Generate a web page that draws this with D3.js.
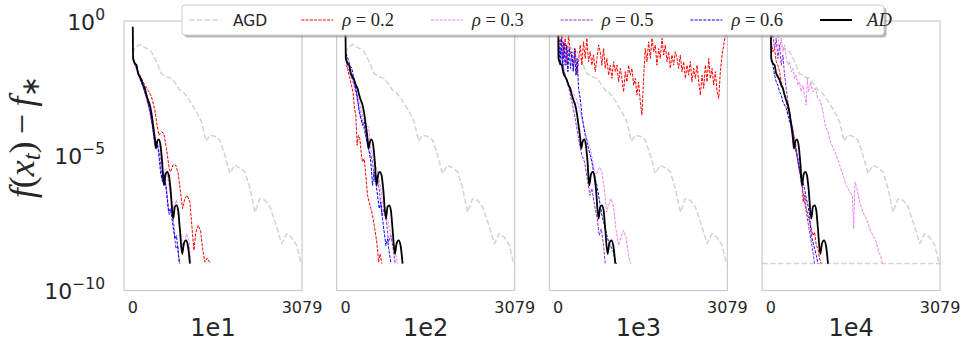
<!DOCTYPE html>
<html lang="en">
<head>
<meta charset="utf-8"/>
<script src="https://d3js.org/d3.v7.min.js"></script>
<style>
body{margin:0;background:#fff;}
.frame{fill:none;stroke:#cccccc;stroke-width:1.25px;}
.tk{font-family:"DejaVu Sans";fill:#262626;}
</style>
</head>
<body>
<svg id="chart" width="965" height="349"></svg>
<script>
// panel names and ticks
const panels = ["1e1", "1e2", "1e3", "1e4"];
const xTicks = [0, 3079];
const yTicks = [0, -5, -10];
const legendLabels = ["AGD", "ρ=0.2", "ρ=0.3", "ρ=0.5", "ρ=0.6", "AD"];
const floorLevel = -9;   // dashed horizontal line in the 1e4 panel

// all series are [iteration, log10(f(x_t) - f*)]
const agd = [[0,-1.2],[36,-1.02],[128,-0.87],[219,-0.98],[340,-1.14],[431,-1.51],[522,-1.95],[613,-2.07],[705,-2.13],[796,-2.38],[856,-2.57],[917,-2.63],[1008,-2.87],[1069,-3.06],[1160,-3.37],[1251,-3.74],[1330,-4.46],[1403,-4.24],[1494,-4.28],[1585,-4.42],[1676,-4.98],[1767,-5.66],[1858,-5.35],[1950,-5.45],[2041,-5.60],[2132,-6.22],[2223,-7.09],[2314,-6.59],[2405,-6.65],[2497,-6.90],[2588,-7.46],[2709,-8.26],[2800,-7.89],[2891,-8.02],[2983,-8.33],[3055,-8.95],[3079,-9.05]];

const ad = [[0,-0.21],[6,-1.39],[36,-1.57],[67,-1.64],[97,-1.95],[128,-2.07],[158,-2.19],[188,-2.38],[219,-2.50],[249,-2.75],[279,-2.94],[310,-3.12],[340,-3.43],[370,-3.87],[401,-4.36],[419,-4.73],[443,-4.49],[474,-4.39],[504,-4.61],[534,-5.23],[565,-6.10],[595,-5.70],[625,-5.60],[656,-5.72],[686,-6.22],[735,-7.33],[765,-6.90],[796,-6.84],[826,-7.03],[856,-7.71],[899,-8.64],[929,-8.26],[966,-8.14],[1002,-8.33],[1039,-9.0]];

// 1e1
const r02_1e1 = [[6,-1.39],[67,-1.76],[128,-2.01],[158,-2.13],[219,-2.38],[279,-2.57],[340,-2.81],[401,-3.31],[443,-3.87],[474,-4.24],[522,-4.11],[565,-4.17],[613,-4.73],[662,-5.48],[686,-5.60],[735,-5.33],[783,-5.35],[826,-5.66],[868,-6.34],[905,-6.96],[947,-6.59],[990,-6.47],[1039,-6.72],[1069,-7.46],[1112,-8.51],[1148,-7.83],[1191,-7.58],[1233,-7.77],[1270,-8.45],[1312,-8.95],[1355,-8.80],[1403,-8.97]];
const r03_1e1 = [[6,-1.4],[36,-1.64],[127,-2.13],[188,-2.44],[249,-2.87],[310,-3.37],[370,-3.99],[431,-4.49],[492,-4.61],[552,-5.60],[613,-5.48],[674,-6.34],[735,-6.96],[795,-6.65],[856,-7.71],[917,-8.45],[978,-7.90],[1026,-8.20],[1057,-9.0]];
const r05_1e1 = [[6,-1.45],[67,-1.76],[127,-2.07],[188,-2.44],[249,-2.87],[310,-3.37],[370,-4.11],[407,-4.61],[443,-4.49],[492,-4.98],[528,-5.85],[565,-5.60],[613,-6.22],[662,-7.21],[704,-6.96],[747,-7.58],[783,-8.45],[820,-8.33],[844,-9.0]];
const r06_1e1 = [[6,-1.39],[67,-1.70],[127,-2.13],[188,-2.44],[249,-2.81],[310,-3.25],[358,-3.87],[395,-4.49],[431,-4.42],[468,-4.86],[504,-5.60],[540,-5.97],[577,-5.72],[613,-6.34],[650,-7.08],[686,-6.96],[722,-7.46],[765,-8.08],[795,-7.96],[832,-8.70],[856,-9.0]];

// 1e2
const r02_1e2 = [[6,-1.26],[36,-1.76],[79,-2.13],[115,-2.44],[140,-2.69],[164,-3.25],[188,-3.49],[212,-4.61],[237,-4.24],[261,-4.36],[291,-4.98],[310,-5.23],[340,-5.11],[370,-5.72],[401,-6.47],[431,-6.72],[461,-6.96],[492,-7.21],[522,-7.58],[552,-7.96],[583,-8.45],[601,-8.95],[631,-8.64],[662,-9.0]];
const r03_1e2 = [[6,-1.3],[36,-1.51],[127,-2.13],[218,-2.75],[310,-3.49],[370,-3.87],[419,-3.93],[461,-4.73],[522,-5.23],[583,-5.60],[644,-6.22],[704,-7.21],[765,-7.34],[826,-7.96],[886,-8.33],[947,-9.0]];
const r05_1e2 = [[6,-1.64],[67,-1.82],[127,-2.19],[188,-2.63],[249,-3.25],[310,-3.74],[370,-4.30],[419,-4.73],[461,-4.98],[492,-5.23],[534,-5.97],[570,-5.72],[613,-6.22],[662,-7.21],[704,-6.96],[747,-7.46],[783,-8.20],[826,-7.96],[868,-8.45],[905,-9.0]];
const r06_1e2 = [[6,-1.20],[36,-1.33],[79,-1.64],[115,-1.76],[140,-2.01],[176,-2.38],[218,-2.87],[249,-3.37],[279,-3.62],[310,-3.87],[340,-3.74],[370,-4.24],[401,-4.61],[431,-4.86],[461,-5.23],[492,-6.10],[522,-5.60],[552,-5.97],[583,-6.47],[613,-6.96],[644,-6.72],[674,-7.34],[704,-7.83],[735,-8.33],[765,-8.08],[795,-8.58],[826,-9.0]];

// 1e3
const r02_1e3 = [[6,-0.52],[36,-0.89],[67,-0.52],[97,-1.39],[127,-0.64],[158,-1.64],[188,-0.52],[218,-1.14],[249,-1.39],[279,-1.76],[310,-1.02],[340,-2.01],[370,-1.51],[401,-0.89],[431,-1.64],[461,-0.77],[492,-1.39],[522,-0.64],[552,-1.51],[583,-1.14],[613,-1.64],[644,-1.26],[674,-1.88],[704,-1.39],[735,-0.89],[765,-1.14],[795,-1.64],[826,-1.02],[856,-1.76],[886,-1.39],[917,-2.01],[947,-1.64],[978,-2.13],[1008,-1.51],[1038,-1.88],[1069,-1.64],[1099,-2.26],[1130,-1.76],[1160,-2.13],[1190,-2.63],[1221,-1.88],[1251,-2.26],[1281,-1.64],[1312,-2.01],[1342,-1.76],[1373,-2.38],[1403,-2.13],[1433,-2.75],[1463,-2.26],[1494,-3.00],[1524,-3.49],[1554,-2.13],[1585,-1.02],[1615,-1.51],[1646,-0.77],[1676,-1.39],[1706,-0.64],[1737,-1.14],[1767,-0.89],[1797,-1.64],[1828,-1.02],[1858,-1.39],[1889,-0.64],[1919,-1.26],[1949,-0.89],[1980,-1.51],[2010,-1.14],[2040,-1.76],[2071,-1.26],[2101,-1.64],[2131,-1.14],[2162,-1.39],[2192,-1.76],[2223,-1.26],[2253,-1.88],[2283,-1.51],[2314,-2.13],[2344,-1.64],[2374,-2.01],[2405,-1.51],[2435,-2.26],[2466,-1.76],[2496,-2.13],[2526,-1.64],[2557,-2.26],[2587,-2.75],[2617,-2.01],[2648,-2.50],[2678,-1.64],[2709,-2.26],[2739,-1.39],[2769,-2.13],[2800,-1.76],[2830,-2.38],[2860,-1.88],[2891,-2.63],[2921,-2.87],[2951,-1.88],[2982,-1.26],[3012,-0.89],[3043,-0.52]];
const r03_1e3 = [[6,-0.9],[36,-1.02],[97,-1.76],[158,-2.26],[218,-2.50],[279,-2.69],[340,-2.94],[401,-3.37],[461,-3.87],[522,-4.36],[583,-4.73],[631,-5.23],[674,-5.72],[716,-5.60],[753,-5.42],[795,-5.60],[838,-6.22],[880,-7.09],[917,-6.84],[959,-6.59],[1008,-6.90],[1050,-7.71],[1099,-8.33],[1141,-8.02],[1190,-7.77],[1233,-8.02],[1281,-8.70],[1318,-9.0]];
const r05_1e3 = [[6,-0.64],[36,-1.26],[67,-1.02],[97,-1.76],[127,-2.01],[188,-2.44],[249,-3.0],[310,-3.62],[370,-4.36],[431,-4.98],[480,-5.23],[528,-5.85],[577,-6.47],[613,-6.22],[662,-6.84],[710,-7.34],[747,-7.96],[783,-7.71],[826,-8.33],[856,-9.0]];
const r06_1e3 = [[6,-0.77],[36,-1.64],[55,-0.64],[79,-1.76],[103,-0.77],[127,-1.64],[152,-0.89],[176,-1.88],[200,-1.02],[225,-1.76],[249,-1.14],[273,-1.88],[297,-1.02],[322,-2.01],[346,-1.39],[370,-2.50],[401,-2.87],[431,-3.49],[461,-3.87],[492,-4.24],[522,-4.49],[552,-4.73],[583,-4.98],[613,-5.23],[644,-5.60],[674,-5.85],[704,-6.10],[735,-6.47],[765,-6.84],[795,-7.21],[826,-7.46],[856,-7.71],[886,-7.96],[917,-8.20],[947,-8.33],[978,-8.45],[1008,-8.58],[1038,-8.95],[1069,-9.0]];

// 1e4
const r02_1e4 = [[6,-0.77],[36,-1.14],[67,-1.02],[97,-1.51],[127,-1.64],[158,-1.88],[188,-2.26],[218,-2.50],[249,-2.75],[279,-3.0],[310,-3.37],[340,-3.49],[370,-3.74],[401,-4.11],[431,-4.36],[461,-4.73],[492,-5.23],[522,-5.60],[540,-5.35],[565,-5.97],[589,-6.72],[613,-6.47],[644,-6.96],[674,-7.21],[704,-7.46],[735,-7.71],[765,-7.96],[795,-7.83],[826,-8.33],[856,-8.45],[886,-8.83],[917,-9.0]];
const r03_1e4 = [[127,-0.52],[158,-1.02],[188,-0.64],[218,-1.14],[249,-0.89],[279,-1.39],[310,-1.64],[340,-1.51],[370,-1.88],[401,-1.76],[431,-2.13],[461,-2.01],[492,-2.38],[522,-2.26],[552,-2.63],[583,-2.38],[613,-2.75],[644,-3.12],[662,-2.13],[686,-2.63],[722,-2.26],[765,-2.63],[808,-2.50],[856,-2.87],[905,-3.0],[947,-3.37],[990,-3.87],[1038,-4.11],[1087,-4.49],[1136,-4.73],[1190,-4.98],[1251,-5.35],[1312,-5.72],[1373,-6.10],[1433,-6.34],[1482,-6.47],[1506,-7.71],[1530,-5.97],[1567,-6.22],[1615,-6.72],[1676,-7.09],[1737,-7.34],[1797,-7.71],[1858,-7.96],[1919,-8.20],[1961,-8.58],[1998,-8.70],[2028,-9.0]];
const r05_1e4 = [[36,-0.52],[67,-1.02],[97,-0.64],[127,-1.39],[158,-0.89],[188,-1.64],[218,-1.26],[249,-2.01],[279,-2.50],[310,-3.0],[340,-3.37],[370,-3.74],[401,-3.99],[431,-4.49],[461,-4.86],[492,-5.23],[522,-5.60],[552,-5.97],[583,-6.34],[613,-6.72],[644,-7.09],[674,-7.46],[704,-7.83],[735,-8.20],[765,-8.58],[795,-9.0]];
const r06_1e4 = [[6,-1.39],[36,-1.64],[67,-2.01],[97,-2.26],[127,-2.38],[158,-2.63],[188,-2.75],[218,-3.0],[249,-3.12],[279,-3.25],[310,-3.49],[340,-3.74],[370,-3.87],[401,-4.24],[431,-4.61],[461,-4.86],[492,-5.11],[522,-5.48],[552,-5.85],[583,-5.97],[613,-6.22],[644,-6.59],[674,-6.84],[704,-7.21],[735,-7.96],[765,-8.20],[795,-8.45],[826,-8.70],[856,-9.0]];

const rho02 = [r02_1e1, r02_1e2, r02_1e3, r02_1e4];
const rho03 = [r03_1e1, r03_1e2, r03_1e3, r03_1e4];
const rho05 = [r05_1e1, r05_1e2, r05_1e3, r05_1e4];
const rho06 = [r06_1e1, r06_1e2, r06_1e3, r06_1e4];

const styles = [
  {color:"#d3d3d3", width:1.5, dash:"5.5,2.4"},
  {color:"red", width:1, dash:"3,1.3"},
  {color:"violet", width:1, dash:"3,1.3"},
  {color:"blueviolet", width:1, dash:"3,1.3"},
  {color:"blue", width:1, dash:"3,1.3"},
  {color:"black", width:1.8, dash:null}
];

const svg = d3.select("#chart");
const left0 = 124, top0 = 21, pw = 178, ph = 269.5, step = 212.7;

const x = d3.scaleLinear().domain([-160, 3079]).range([0, pw]);
const y = d3.scaleLog().domain([1e-10, 1]).range([ph, 0]);
const line = d3.line().x(d => x(d[0])).y(d => y(Math.pow(10, d[1])));
const smooth = d3.line().x(d => x(d[0])).y(d => y(Math.pow(10, d[1]))).curve(d3.curveMonotoneX);

panels.forEach((name, i) => {
  const g = svg.append("g").attr("transform", "translate(" + (left0 + i * step) + "," + top0 + ")");
  g.append("clipPath").attr("id", "clip" + i)
    .append("rect").attr("width", pw).attr("height", ph);
  const plot = g.append("g").attr("clip-path", "url(#clip" + i + ")");

  const lines = [agd, rho02[i], rho03[i], rho05[i], rho06[i], ad];
  if (name === "1e4") {
    plot.append("line")
      .attr("x1", 0).attr("x2", pw)
      .attr("y1", y(Math.pow(10, floorLevel))).attr("y2", y(Math.pow(10, floorLevel)))
      .style("stroke", styles[0].color).style("stroke-width", 1.5)
      .style("stroke-dasharray", styles[0].dash);
  }
  lines.forEach((data, k) => {
    const s = styles[k];
    plot.append("path")
      .attr("d", k === 5 ? smooth(data) : line(data))
      .style("fill", "none")
      .style("stroke", s.color)
      .style("stroke-width", s.width)
      .style("stroke-dasharray", s.dash)
      .style("stroke-linejoin", "round");
  });

  g.append("rect").attr("class", "frame").attr("width", pw).attr("height", ph);

  xTicks.forEach(t => {
    g.append("text").attr("class", "tk")
      .attr("x", x(t)).attr("y", 313 - top0)
      .attr("text-anchor", "middle").style("font-size", "16px")
      .text(t);
  });
  g.append("text").attr("class", "tk")
    .attr("x", pw / 2).attr("y", 336 - top0)
    .attr("text-anchor", "middle").style("font-size", "24px")
    .text(name);

  if (i === 0) {
    yTicks.forEach(e => {
      const t = g.append("text").attr("class", "tk")
        .attr("x", -19).attr("y", y(Math.pow(10, e)) + 8.5)
        .attr("text-anchor", "end").style("font-size", "22px");
      t.append("tspan").text("10");
      t.append("tspan").attr("dy", -10).style("font-size", "15.5px")
        .text(String(e).replace("-", "\u2212"));
    });
  }
});

// y label
const yl = svg.append("text")
  .attr("transform", "translate(34,137) rotate(-90)")
  .attr("text-anchor", "middle")
  .style("font-family", "Liberation Serif").style("font-size", "36px").style("fill", "#262626");
yl.append("tspan").style("font-style", "italic").text("f");
yl.append("tspan").text("(");
yl.append("tspan").style("font-style", "italic").text("x");
yl.append("tspan").style("font-style", "italic").style("font-size", "25px").attr("dy", 6).text("t");
yl.append("tspan").attr("dy", -6).text(")\u2009\u2212\u2009");
yl.append("tspan").style("font-style", "italic").text("f");
yl.append("tspan").style("font-size", "25px").attr("dy", 5).text("\u2217");

// legend
const leg = svg.append("g");
leg.append("rect").attr("x", 184.5).attr("y", 7.5).attr("width", 702).attr("height", 30).attr("rx", 3)
  .style("fill", "#888").style("opacity", 0.6);
leg.append("rect").attr("x", 182).attr("y", 5).attr("width", 702).attr("height", 30).attr("rx", 3)
  .style("fill", "white").style("stroke", "#cccccc").style("stroke-width", 1);

let lx = 189;
legendLabels.forEach((lab, k) => {
  const s = styles[k];
  leg.append("line").attr("x1", lx).attr("x2", lx + 32).attr("y1", 20).attr("y2", 20)
    .style("stroke", s.color).style("stroke-width", k === 0 ? 1.5 : (k === 5 ? 2 : 1))
    .style("stroke-dasharray", s.dash);
  let t;
  if (k === 0) {
    t = leg.append("text").attr("x", lx + 44).attr("y", 26)
      .style("font-family", "DejaVu Sans").style("font-size", "15.5px").style("fill", "#262626").text(lab);
  } else if (k === 5) {
    t = leg.append("text").attr("x", lx + 47).attr("y", 26)
      .style("font-family", "Liberation Serif").style("font-style", "italic")
      .style("font-size", "18.5px").style("fill", "#262626").text(lab);
  } else {
    const parts = lab.split("=");
    t = leg.append("text").attr("x", lx + 41).attr("y", 26)
      .style("font-family", "Liberation Serif").style("font-size", "18.5px").style("fill", "#262626");
    t.append("tspan").style("font-style", "italic").text(parts[0]);
    t.append("tspan").text(" = " + parts[1]);
  }
  lx = lx + 41 + t.node().getComputedTextLength() + 37;
});
</script>
</body>
</html>
